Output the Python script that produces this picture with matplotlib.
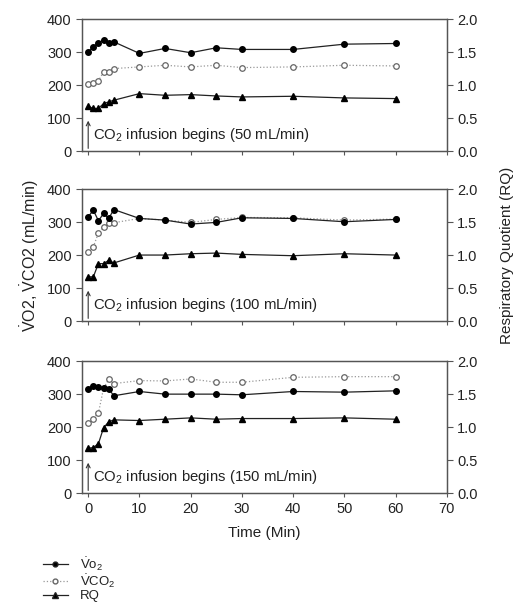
import matplotlib
matplotlib.use("Agg")
import matplotlib.pyplot as plt
from matplotlib.lines import Line2D
import numpy as np

plt.rcParams['font.family'] = ['Liberation Sans', 'DejaVu Sans']
plt.rcParams['mathtext.fontset'] = 'custom'
plt.rcParams['mathtext.rm'] = 'Liberation Sans'
plt.rcParams['mathtext.it'] = 'Liberation Sans'

# time points (min)
time = [0, 1, 2, 3, 4, 5, 10, 15, 20, 25, 30, 40, 50, 60]

# CO2 infusion rates (mL/min)
rates = [50, 100, 150]

# VO2 (mL/min)
vo2_50 = [301, 316, 328, 336, 326, 331, 296, 311, 298, 313, 308, 308, 324, 326]
vo2_100 = [316, 336, 304, 326, 311, 338, 311, 306, 294, 299, 313, 311, 301, 308]
vo2_150 = [315, 326, 322, 320, 316, 295, 308, 300, 300, 300, 298, 308, 306, 310]

# VCO2 (mL/min)
vco2_50 = [203, 205, 213, 240, 240, 250, 255, 260, 255, 260, 253, 255, 260, 258]
vco2_100 = [210, 225, 267, 285, 298, 298, 311, 306, 299, 308, 314, 313, 306, 309]
vco2_150 = [213, 226, 243, 318, 345, 332, 341, 340, 346, 336, 336, 351, 353, 353]

# RQ
rq_50 = [0.68, 0.645, 0.645, 0.72, 0.745, 0.77, 0.87, 0.845, 0.855, 0.835, 0.82, 0.83, 0.805, 0.795]
rq_100 = [0.67, 0.67, 0.87, 0.87, 0.92, 0.88, 1.0, 1.0, 1.02, 1.03, 1.01, 0.99, 1.02, 1.0]
rq_150 = [0.68, 0.69, 0.75, 0.99, 1.08, 1.11, 1.10, 1.12, 1.14, 1.12, 1.13, 1.13, 1.14, 1.12]

vo2 = [vo2_50, vo2_100, vo2_150]
vco2 = [vco2_50, vco2_100, vco2_150]
rq = [rq_50, rq_100, rq_150]

fig = plt.figure(figsize=(5.16, 6.08), dpi=100)

spine_col = '#555555'
text_col = '#222222'
bottoms = [0.7516, 0.472, 0.189]
left, width, height = 0.159, 0.707, 0.217

for i in range(3):
    ax = fig.add_axes([left, bottoms[i], width, height])
    ax2 = ax.twinx()

    ax.plot(time, vo2[i], color='#222222', lw=0.9, marker='o', ms=4,
            mfc='black', mec='black', zorder=3)
    ax.plot(time, vco2[i], color='#999999', lw=0.9, ls=':', marker='o', ms=4,
            mfc='white', mec='#666666', mew=0.9, zorder=2)
    ax2.plot(time, rq[i], color='#222222', lw=0.9, marker='^', ms=4.5,
             mfc='black', mec='black', zorder=3)

    ax.set_xlim(-1.2, 70)
    ax.set_ylim(0, 400)
    ax2.set_ylim(0, 2.0)
    ax.set_xticks(np.arange(0, 71, 10))
    ax.set_yticks(np.arange(0, 401, 100))
    ax2.set_yticks(np.arange(0, 2.01, 0.5))
    ax2.set_yticklabels(['%.1f' % v for v in np.arange(0, 2.01, 0.5)])

    for a in (ax, ax2):
        for s in a.spines.values():
            s.set_color(spine_col)
            s.set_linewidth(0.9)
        a.tick_params(colors=spine_col, labelcolor=text_col, labelsize=10.5,
                      length=4, width=0.8, direction='out')
    ax.tick_params(axis='x', length=3)
    if i < 2:
        ax.set_xticklabels([])

    ax.annotate('', xy=(0, 92), xytext=(0, 8),
                arrowprops=dict(arrowstyle='->', color='#333333', lw=0.8,
                                shrinkA=0, shrinkB=0, mutation_scale=7))
    ax.text(0.9, 48, 'CO$_2$ infusion begins (%d mL/min)' % rates[i],
            fontsize=10.7, color=text_col, va='center', ha='left')

    if i == 1:
        ax.set_ylabel(r'$\dot{\mathrm{V}}$O2, $\dot{\mathrm{V}}$CO2 (mL/min)',
                      fontsize=11.5, color=text_col, labelpad=4)
        ax2.set_ylabel('Respiratory Quotient (RQ)', fontsize=11,
                       color=text_col, labelpad=16)
    if i == 2:
        ax.set_xlabel('Time (Min)', fontsize=11, color=text_col, labelpad=7)

handles = [
    Line2D([], [], color='#222222', lw=0.9, marker='o', ms=3.5, mfc='black'),
    Line2D([], [], color='#999999', lw=0.9, ls=':', marker='o', ms=3.5,
           mfc='white', mec='#666666'),
    Line2D([], [], color='#222222', lw=0.9, marker='^', ms=4, mfc='black'),
]
labels = [r'$\dot{\mathrm{V}}\mathrm{o}_2$', r'$\dot{\mathrm{V}}\mathrm{CO}_2$', 'RQ']
fig.legend(handles, labels, loc='upper left', bbox_to_anchor=(0.07, 0.098),
           frameon=False, fontsize=9.5, handlelength=1.9, labelspacing=0.0,
           handletextpad=0.9, borderpad=0, labelcolor=text_col)

fig.savefig('out.png', dpi=100)
